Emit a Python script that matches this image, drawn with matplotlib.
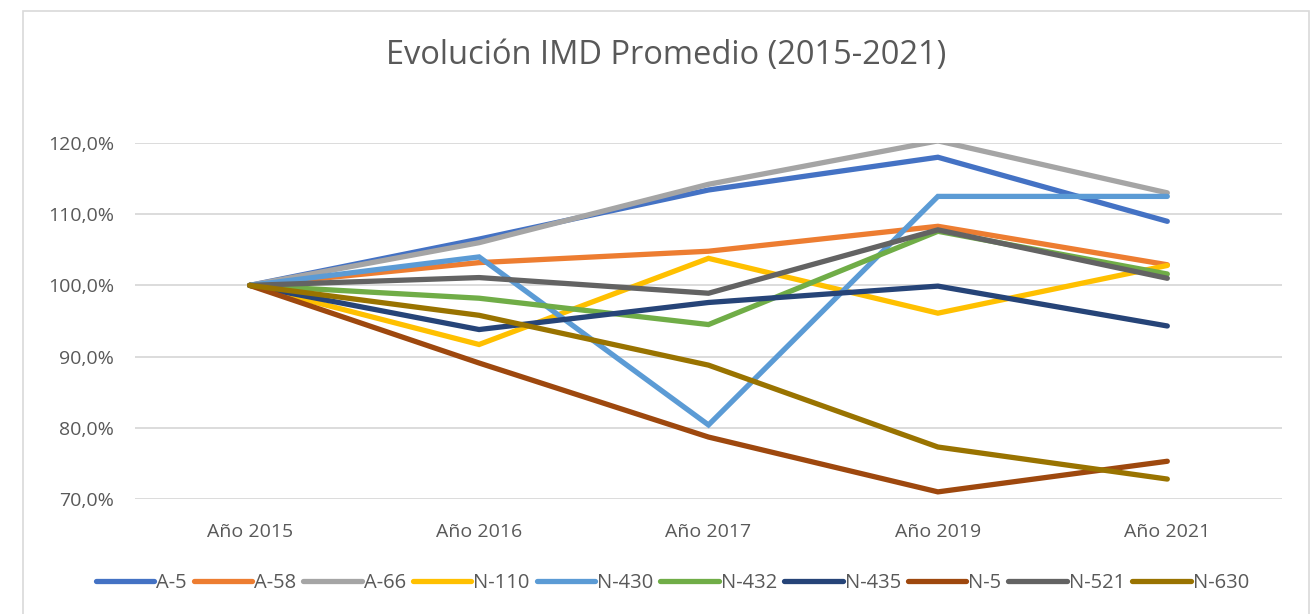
import matplotlib.pyplot as plt
from matplotlib.patches import Rectangle
from matplotlib.ticker import FuncFormatter

plt.rcParams['font.family'] = ['Open Sans', 'DejaVu Sans']

years = ["Año 2015", "Año 2016", "Año 2017", "Año 2019", "Año 2021"]
roads = ["A-5", "A-58", "A-66", "N-110", "N-430", "N-432", "N-435", "N-5", "N-521", "N-630"]

a5 = [100.0, 106.5, 113.4, 118.0, 109.0]
a58 = [100.0, 103.2, 104.8, 108.3, 102.9]
a66 = [100.0, 106.0, 114.2, 120.3, 113.0]
n110 = [100.0, 91.7, 103.8, 96.1, 102.8]
n430 = [100.0, 104.0, 80.4, 112.5, 112.5]
n432 = [100.0, 98.2, 94.5, 107.6, 101.6]
n435 = [100.0, 93.8, 97.6, 99.9, 94.3]
n5 = [100.0, 89.1, 78.7, 71.0, 75.3]
n521 = [100.0, 101.1, 98.9, 107.8, 101.0]
n630 = [100.0, 95.8, 88.8, 77.3, 72.8]

series = [a5, a58, a66, n110, n430, n432, n435, n5, n521, n630]
colors = ["#4472C4", "#ED7D31", "#A5A5A5", "#FFC000", "#5B9BD5",
          "#70AD47", "#264478", "#9E480E", "#636363", "#997300"]

txt = "#595959"

fig = plt.figure(figsize=(13.13, 6.14), dpi=100)
ax = fig.add_axes([0.1028, 0.1873, 0.8736, 0.5798])

x = range(len(years))
for vals, name, c in zip(series, roads, colors):
    ax.plot(x, vals, color=c, lw=3.8, label=name,
            solid_capstyle='round', solid_joinstyle='miter')

ax.set_xlim(-0.5, 4.5)
ax.set_ylim(70, 120)
ax.set_yticks([70, 80, 90, 100, 110, 120])
ax.yaxis.set_major_formatter(FuncFormatter(lambda v, p: f"{v:.1f}%".replace(".", ",")))
ax.set_xticks(list(x))
ax.set_xticklabels(years)
ax.grid(axis='y', color='#D9D9D9', lw=1.3)
ax.set_axisbelow(True)
for s in ax.spines.values():
    s.set_visible(False)
ax.tick_params(length=0, labelsize=14, colors=txt)
ax.tick_params(axis='y', pad=15)
ax.tick_params(axis='x', pad=17)

fig.text(0.507, 0.91, "Evolución IMD Promedio (2015-2021)", ha='center', va='center',
         fontsize=23.5, color=txt)

leg = fig.legend(loc='center', bbox_to_anchor=(0.512, 0.05), ncol=10, frameon=False,
                 fontsize=14.5, handlelength=2.9, handletextpad=0.1, columnspacing=0.35,
                 labelcolor=txt)

fig.patches.append(Rectangle((23 / 1313, -0.05), (1309 - 23) / 1313, 1.05 - 11 / 614,
                             transform=fig.transFigure, fill=False,
                             edgecolor='#D9D9D9', lw=1.2))

fig.savefig("out.png", dpi=100)
